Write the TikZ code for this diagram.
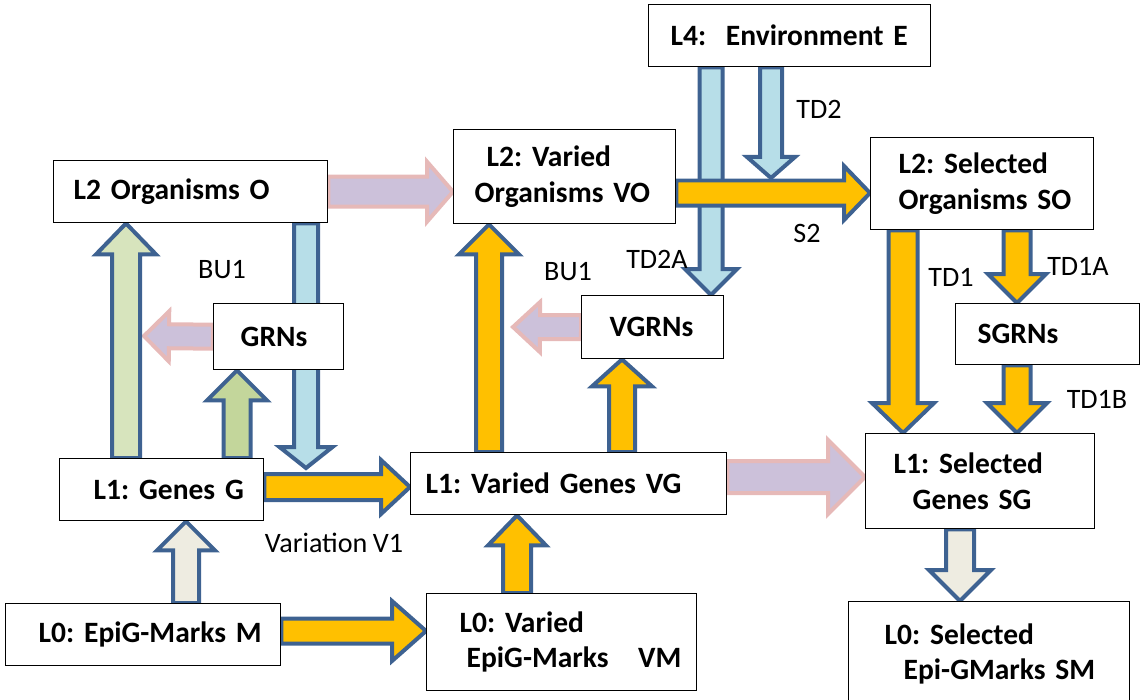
\documentclass[tikz,border=0pt]{standalone}
\usepackage{fontspec}
\setmainfont{Carlito}[WordSpace=0.85]
\frenchspacing
\usepackage{tikz}
\usetikzlibrary{calc, backgrounds}

\definecolor{arrLine}{RGB}{62,98,145}
\definecolor{arrOrange}{RGB}{255,192,0}
\definecolor{arrBlue}{RGB}{183,222,232}
\definecolor{arrPale}{RGB}{215,228,189}
\definecolor{arrGreen}{RGB}{195,214,155}
\definecolor{arrBeige}{RGB}{238,236,225}
\definecolor{arrLav}{RGB}{204,193,218}
\definecolor{arrPink}{RGB}{230,185,184}

\newcommand\pxu{0.02cm}
\newcommand\boxfont{\fontsize{16.8}{20}\selectfont\bfseries}
\newcommand\lblfont{\fontsize{16}{19}\selectfont}

% block arrow from #2 to #3 (half widths and head length in px)
\newcommand\fatS{\pgfkeysvalueof{/tikz/fat shaft}*\pxu}
\newcommand\fatH{\pgfkeysvalueof{/tikz/fat head}*\pxu}
\newcommand\fatL{\pgfkeysvalueof{/tikz/fat len}*\pxu}
\newcommand\fatarrow[3][]{%
  \path[fatarr,#1] let \p1=#2, \p2=#3,
      \n1={atan2(\y2-\y1,\x2-\x1)}, \n2={veclen(\x2-\x1,\y2-\y1)} in
    [shift={(\p1)}, rotate=\n1]
    (0pt,{\fatS}) -- ({\n2-\fatL},{\fatS}) -- ({\n2-\fatL},{\fatH})
    -- (\n2,0pt) -- ({\n2-\fatL},{-\fatH}) -- ({\n2-\fatL},{-\fatS})
    -- (0pt,{-\fatS}) -- cycle;}

\tikzset{
  fat shaft/.initial=13, fat head/.initial=30, fat len/.initial=30,
  fatarr/.style={draw=arrLine, line width=0.08cm, line join=miter},
  orangearr/.style={fill=arrOrange},
  bluearr/.style={fill=arrBlue},
  palearr/.style={fill=arrPale},
  greenarr/.style={fill=arrGreen},
  beigearr/.style={fill=arrBeige},
  lavarr/.style={fill=arrLav, draw=arrPink},
}

\begin{document}
\begin{tikzpicture}[x=0.02cm, y=-0.02cm,
    box/.style={draw, fill=white, line width=0.8pt, font=\boxfont, align=left,
      anchor=north west, inner ysep=0pt},
    lbl/.style={font=\lblfont, inner sep=0pt, anchor=base},
  ]
  \useasboundingbox (0,0) rectangle (1141,699);

  % Level boxes
  \node[box, text width=4.76cm, inner xsep=0.44cm, minimum height=1.24cm] (orgE) at (648,4) {\mbox{L4:~~Environment E}};
  \node[box, text width=4.68cm, inner xsep=0.40cm, minimum height=1.24cm] (orgO) at (53,160) {\mbox{L2 Organisms O}};
  \node[box, text width=3.60cm, inner xsep=0.42cm, minimum height=1.88cm] (orgVO) at (453,129) {\mbox{\hspace*{0.24cm}L2: Varied}\\\mbox{Organisms VO}};
  \node[box, text width=3.34cm, inner xsep=0.56cm, minimum height=1.84cm] (orgSO) at (870,137) {\mbox{L2: Selected}\\\mbox{Organisms SO}};
  \node[box, text width=1.52cm, inner xsep=0.54cm, minimum height=1.32cm] (orgGRN) at (213,303) {\mbox{GRNs}};
  \node[box, text width=1.72cm, inner xsep=0.56cm, minimum height=1.26cm] (orgVGR) at (581,295) {\mbox{VGRNs}};
  \node[box, text width=2.80cm, inner xsep=0.44cm, minimum height=1.22cm] (orgSGR) at (955,303) {\mbox{SGRNs}};
  \node[box, text width=2.72cm, inner xsep=0.68cm, minimum height=1.24cm] (orgG) at (59,458) {\mbox{L1: Genes G}};
  \node[box, text width=5.72cm, inner xsep=0.30cm, minimum height=1.24cm] (orgVG) at (410,452) {\mbox{L1: Varied Genes VG}};
  \node[box, text width=3.46cm, inner xsep=0.56cm, minimum height=1.90cm] (orgSG) at (865,433) {\mbox{L1: Selected}\\\mbox{\hspace*{0.38cm}Genes SG}};
  \node[box, text width=4.18cm, inner xsep=0.66cm, minimum height=1.24cm] (orgM) at (5,603) {\mbox{L0: EpiG-Marks M}};
  \node[box, text width=4.08cm, inner xsep=0.66cm, minimum height=1.94cm] (orgVM) at (426,593) {\mbox{L0: Varied}\\\mbox{\hspace*{0.14cm}EpiG-Marks~~~VM}};
  \node[box, text width=4.18cm, inner xsep=0.72cm, minimum height=2.10cm] (orgSM) at (848,601) {\mbox{L0: Selected}\\\mbox{\hspace*{0.38cm}Epi-GMarks SM}};

  % Free arrow ends
  \coordinate (tipGRN) at (144,336);
  \coordinate (tipVGR) at (513,327);
  \coordinate (tipOG) at (306,468);
  \coordinate (tipTD2) at (771,178);

  \begin{scope}[on background layer]
    \fatarrow[lavarr, fat shaft=15, fat head=30, fat len=26]{(orgO.east)}{(orgVO.west |- orgO.east)}
    \fatarrow[lavarr, fat shaft=12, fat head=25, fat len=25]{(orgGRN.west)}{(tipGRN)}
    \fatarrow[lavarr, fat shaft=12, fat head=25, fat len=27]{(orgVGR.west)}{(tipVGR)}
    \fatarrow[lavarr, fat shaft=16, fat head=37, fat len=37]{(orgVG.east |- 0,477)}{(orgSG.west |- 0,477)}
    \fatarrow[palearr, fat shaft=14, fat head=30, fat len=31]{(orgG.north -| 126,0)}{(orgO.south -| 126,0)}
    \fatarrow[greenarr, fat shaft=13.5, fat head=30, fat len=30]{(orgG.north -| 237,0)}{(orgGRN.south -| 237,0)}
    \fatarrow[bluearr, fat shaft=12, fat head=26.5, fat len=21]{(orgO.south -| 306,0)}{(tipOG)}
    \fatarrow[beigearr, fat shaft=13, fat head=29, fat len=29]{(orgM.north -| 186,0)}{(orgG.south -| 186,0)}
    \fatarrow[orangearr, fat shaft=13, fat head=27, fat len=29]{(orgG.east |- 0,487)}{(orgVG.west |- 0,487)}
    \fatarrow[orangearr, fat shaft=12.5, fat head=30, fat len=34]{(orgM.east |- 0,631)}{(orgVM.west |- 0,631)}
    \fatarrow[orangearr, fat shaft=14, fat head=29, fat len=30]{(orgVM.north -| 517,0)}{(orgVG.south -| 517,0)}
    \fatarrow[orangearr, fat shaft=13, fat head=30, fat len=30]{(orgVG.north -| 489,0)}{(orgVO.south -| 489,0)}
    \fatarrow[orangearr, fat shaft=13, fat head=30, fat len=27]{(orgVG.north -| 622,0)}{(orgVGR.south -| 622,0)}
    \fatarrow[bluearr, fat shaft=11.5, fat head=26, fat len=26]{(orgE.south -| 711,0)}{(orgVGR.north -| 711,0)}
    \fatarrow[orangearr, fat shaft=12.5, fat head=27, fat len=26]{(orgVO.east |- 0,193)}{(orgSO.west |- 0,193)}
    \fatarrow[bluearr, fat shaft=11, fat head=24, fat len=21]{(orgE.south -| 771,0)}{(tipTD2)}
    \fatarrow[orangearr, fat shaft=14.5, fat head=31, fat len=30]{(orgSO.south -| 903,0)}{(orgSG.north -| 903,0)}
    \fatarrow[orangearr, fat shaft=13.5, fat head=29, fat len=29]{(orgSO.south -| 1017,0)}{(orgSGR.north -| 1017,0)}
    \fatarrow[orangearr, fat shaft=13.5, fat head=30, fat len=30]{(orgSGR.south -| 1017,0)}{(orgSG.north -| 1017,0)}
    \fatarrow[beigearr, fat shaft=14, fat head=31, fat len=31]{(orgSG.south -| 960,0)}{(orgSM.north -| 960,0)}
  \end{scope}

  % Arrow labels
  \node[lbl] (lbBUa) at (222,278) {BU1};
  \node[lbl] (lbBUb) at (568,280) {BU1};
  \node[lbl] (lbTDtwoA) at (657,268) {TD2A};
  \node[lbl] (lbTDtwo) at (819,119) {TD2};
  \node[lbl] (lbS) at (807,242) {S2};
  \node[lbl] (lbTDone) at (951,286) {TD1};
  \node[lbl] (lbTDoneA) at (1078,275) {TD1A};
  \node[lbl] (lbTDoneB) at (1097,408) {TD1B};
  \node[lbl] (lbVar) at (334,552) {Variation V1};
\end{tikzpicture}
\end{document}
